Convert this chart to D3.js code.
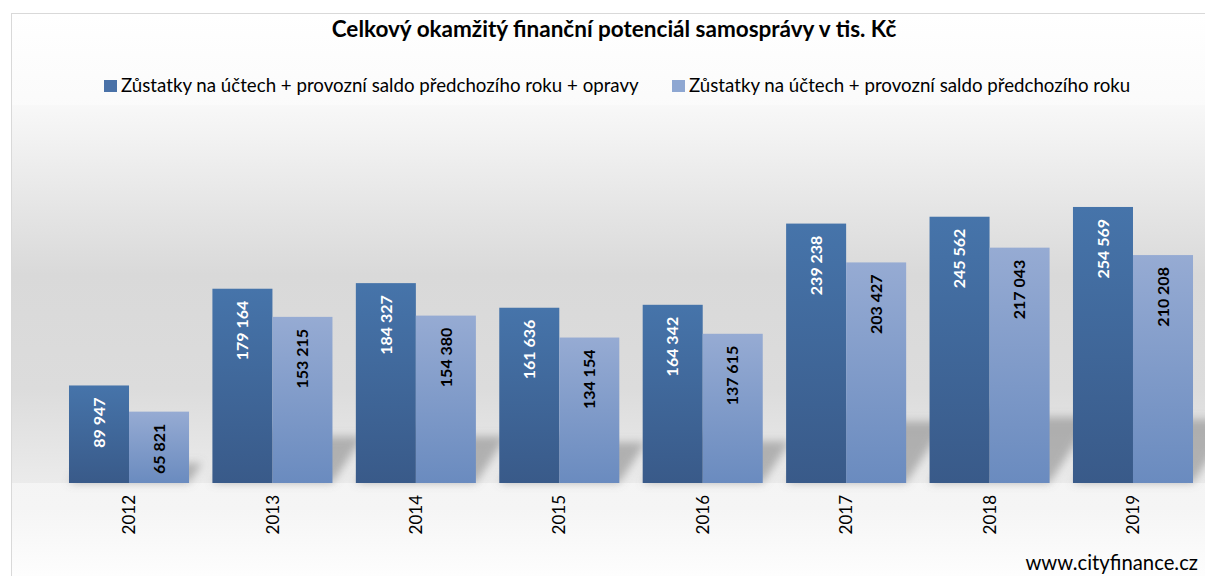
<!DOCTYPE html>
<html>
<head>
<meta charset="utf-8">
<script src="https://cdn.jsdelivr.net/npm/d3@7"></script>
<style>
  html, body { margin: 0; padding: 0; background: #ffffff; }
  svg { display: block; }
  text { font-family: Lato, "Open Sans", "DejaVu Sans", sans-serif; }
</style>
</head>
<body>
<svg id="chart" width="1205" height="576"></svg>
<script>
const title = "Celkový okamžitý finanční potenciál samosprávy v tis. Kč";
const categories = ["2012", "2013", "2014", "2015", "2016", "2017", "2018", "2019"];
const seriesNames = [
  "Zůstatky na účtech + provozní saldo předchozího roku + opravy",
  "Zůstatky na účtech + provozní saldo předchozího roku"
];
const seriesA = [89947, 179164, 184327, 161636, 164342, 239238, 245562, 254569];
const seriesB = [65821, 153215, 154380, 134154, 137615, 203427, 217043, 210208];
const watermark = "www.cityfinance.cz";

const W = 1205, H = 576;
const svg = d3.select("#chart");
const defs = svg.append("defs");

function lin(id, stops) {
  const g = defs.append("linearGradient").attr("id", id)
    .attr("x1", 0).attr("y1", 0).attr("x2", 0).attr("y2", 1);
  stops.forEach(s => g.append("stop").attr("offset", s[0]).attr("stop-color", s[1]));
}
lin("gChart", [[0, "#ffffff"], [0.5, "#f1f1f1"], [0.86, "#f5f5f5"], [1, "#ffffff"]]);
lin("gPlot", [[0, "#f8f8f8"], [0.45, "#d9d9d9"], [0.75, "#dcdcdc"], [1, "#ebebeb"]]);
lin("gDark", [[0, "#4674aa"], [1, "#395a89"]]);
lin("gLight", [[0, "#96abd3"], [1, "#6a8bbf"]]);

const blur = defs.append("filter").attr("id", "blur")
  .attr("x", "-50%").attr("y", "-50%").attr("width", "200%").attr("height", "200%");
blur.append("feGaussianBlur").attr("stdDeviation", 4.5);

// chart area
svg.append("rect").attr("x", 11.5).attr("y", 13.5).attr("width", W - 11).attr("height", H)
  .attr("fill", "url(#gChart)").attr("stroke", "#d9d9d9").attr("stroke-width", 1);

const plot = { left: 57.3, right: 1204.7, top: 105, bottom: 483 };
svg.append("rect").attr("x", 12).attr("y", plot.top).attr("width", W - 12)
  .attr("height", plot.bottom - plot.top).attr("fill", "url(#gPlot)");

const x = d3.scaleBand().domain(categories)
  .range([plot.left, plot.right]).paddingInner(0.163).paddingOuter(0.0815);
const xs = d3.scaleBand().domain([0, 1]).range([0, x.bandwidth()]);
const y = d3.scaleLinear().domain([0, 300000]).range([plot.bottom, plot.bottom - 325.3]);

const data = [];
categories.forEach((c, i) => {
  data.push({ cat: c, s: 0, v: seriesA[i] });
  data.push({ cat: c, s: 1, v: seriesB[i] });
});

// perspective shadows
const shadowG = svg.append("g").attr("filter", "url(#blur)");
shadowG.selectAll("path").data(data).join("path")
  .attr("d", d => {
    const x0 = x(d.cat) + xs(d.s), x1 = x0 + xs.bandwidth();
    const h = plot.bottom - y(d.v);
    const sh = h * 0.28, dx = sh * 0.65;
    const b = plot.bottom;
    return `M${x0},${b}L${x1},${b}L${x1 + dx},${b - sh}L${x0 + dx},${b - sh}Z`;
  })
  .attr("fill", "#7a7a7a").attr("fill-opacity", 0.5);

// bars
svg.append("g").selectAll("rect").data(data).join("rect")
  .attr("x", d => x(d.cat) + xs(d.s))
  .attr("y", d => y(d.v))
  .attr("width", xs.bandwidth())
  .attr("height", d => y(0) - y(d.v))
  .attr("fill", d => d.s === 0 ? "url(#gDark)" : "url(#gLight)");

// data labels
const fmt = v => d3.format(",")(v).replace(/,/g, " ");
svg.append("g").selectAll("text").data(data).join("text")
  .attr("transform", d => `translate(${x(d.cat) + xs(d.s) + xs.bandwidth() / 2},${y(d.v) + 12}) rotate(-90)`)
  .attr("text-anchor", "end").attr("dy", "0.36em")
  .attr("font-size", 16).attr("font-weight", "bold")
  .attr("fill", d => d.s === 0 ? "#ffffff" : "#000000")
  .text(d => fmt(d.v));

// x axis labels
const xAxis = d3.axisBottom(x).tickSize(0).tickPadding(0);
const ax = svg.append("g").attr("transform", `translate(0,${plot.bottom})`).call(xAxis);
ax.select(".domain").remove();
ax.selectAll(".tick text")
  .attr("transform", "translate(0,12) rotate(-90)")
  .attr("text-anchor", "end").attr("dy", "0.36em").attr("y", 0).attr("x", 0)
  .attr("font-family", "Lato, 'Open Sans', sans-serif")
  .attr("font-size", 17).attr("fill", "#000");

// title
svg.append("text").attr("x", 614).attr("y", 37).attr("text-anchor", "middle")
  .attr("font-size", 22.5).attr("font-weight", "bold").attr("fill", "#000").text(title);

// legend
const legColors = ["#4a72a8", "#8ea7d2"];
const legX = [104, 672];
const leg = svg.append("g");
seriesNames.forEach((n, i) => {
  leg.append("rect").attr("x", legX[i]).attr("y", 80).attr("width", 13).attr("height", 12)
    .attr("fill", legColors[i]);
  leg.append("text").attr("x", legX[i] + 17).attr("y", 92)
    .attr("font-size", 18.7).attr("fill", "#000").text(n);
});

// watermark
svg.append("text").attr("x", 1198).attr("y", 570).attr("text-anchor", "end")
  .attr("font-size", 20.3).attr("fill", "#000").text(watermark);
</script>
</body>
</html>
